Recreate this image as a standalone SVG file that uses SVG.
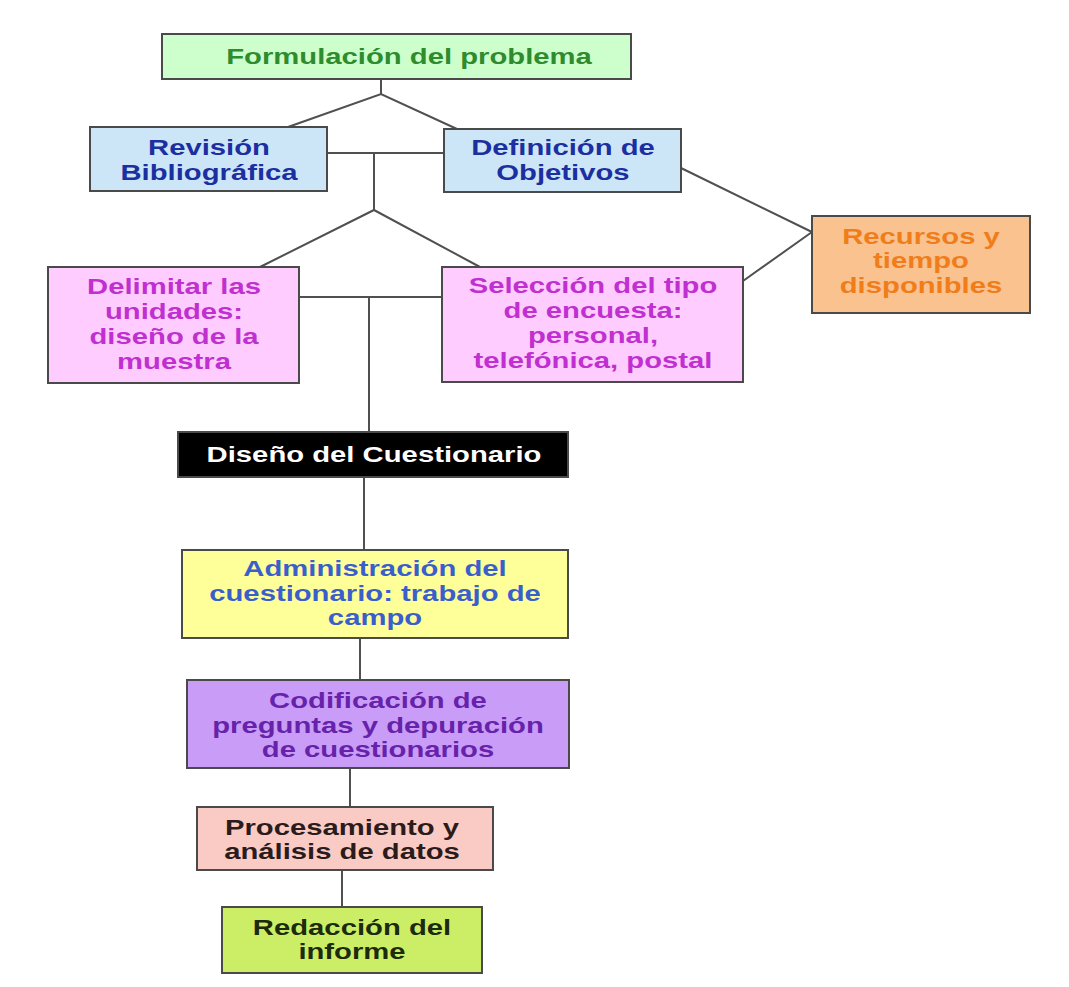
<svg xmlns="http://www.w3.org/2000/svg" width="1069" height="987" viewBox="0 0 1069 987">
<style>
  .box { stroke: #4a4a4a; stroke-width: 2; }
  .lbl { font-family: "Liberation Sans", Arial, sans-serif; font-weight: bold; font-size: 22px; text-anchor: middle; }
  .conn line, .conn polyline { stroke: #505050; stroke-width: 2; fill: none; }
</style>
<rect width="1069" height="987" fill="#ffffff"/>
<g class="conn" id="connectors">
  <line x1="381" y1="79" x2="381" y2="94"/>
  <polyline points="288,127 381,94 457,129"/>
  <line x1="327" y1="153" x2="444" y2="153"/>
  <line x1="374" y1="153" x2="374" y2="210"/>
  <polyline points="260,267 374,210 480,267"/>
  <line x1="299" y1="297" x2="442" y2="297"/>
  <line x1="369" y1="297" x2="369" y2="432"/>
  <line x1="364" y1="477" x2="364" y2="550"/>
  <line x1="360" y1="638" x2="360" y2="680"/>
  <line x1="350" y1="768" x2="350" y2="807"/>
  <line x1="342" y1="870" x2="342" y2="907"/>
  <polyline points="681,168 812,232 743,281"/>
</g>
<g id="formulacion">
  <rect class="box" x="162" y="34" width="469" height="45" fill="#ccffcc"/>
  <g transform="translate(409,0) scale(1.33,1)"><text class="lbl" x="0" y="64" fill="#2e8b2e">Formulación del problema</text></g>
</g>
<g id="revision">
  <rect class="box" x="90" y="127" width="237" height="64" fill="#cce6f7"/>
  <g transform="translate(209,0) scale(1.33,1)" fill="#1c2fa0"><text class="lbl" x="0" y="155">Revisión</text><text class="lbl" x="0" y="180">Bibliográfica</text></g>
</g>
<g id="definicion">
  <rect class="box" x="444" y="129" width="237" height="63" fill="#cce6f7"/>
  <g transform="translate(563,0) scale(1.33,1)" fill="#1c2fa0"><text class="lbl" x="0" y="155">Definición de</text><text class="lbl" x="0" y="180">Objetivos</text></g>
</g>
<g id="recursos">
  <rect class="box" x="812" y="216" width="218" height="97" fill="#f9c28f"/>
  <g transform="translate(921,0) scale(1.33,1)" fill="#f07d1a"><text class="lbl" x="0" y="244">Recursos y</text><text class="lbl" x="0" y="268">tiempo</text><text class="lbl" x="0" y="293">disponibles</text></g>
</g>
<g id="delimitar">
  <rect class="box" x="48" y="267" width="251" height="116" fill="#ffccff"/>
  <g transform="translate(174,0) scale(1.33,1)" fill="#c030d0"><text class="lbl" x="0" y="294">Delimitar las</text><text class="lbl" x="0" y="319">unidades:</text><text class="lbl" x="0" y="344">diseño de la</text><text class="lbl" x="0" y="369">muestra</text></g>
</g>
<g id="seleccion">
  <rect class="box" x="442" y="267" width="301" height="115" fill="#ffccff"/>
  <g transform="translate(593,0) scale(1.33,1)" fill="#c030d0"><text class="lbl" x="0" y="293">Selección del tipo</text><text class="lbl" x="0" y="318">de encuesta:</text><text class="lbl" x="0" y="343">personal,</text><text class="lbl" x="0" y="368">telefónica, postal</text></g>
</g>
<g id="diseno">
  <rect class="box" x="178" y="432" width="390" height="45" fill="#000000"/>
  <g transform="translate(374,0) scale(1.33,1)" fill="#ffffff"><text class="lbl" x="0" y="462">Diseño del Cuestionario</text></g>
</g>
<g id="administracion">
  <rect class="box" x="182" y="550" width="386" height="88" fill="#ffff99"/>
  <g transform="translate(375,0) scale(1.33,1)" fill="#3a5fcd"><text class="lbl" x="0" y="576">Administración del</text><text class="lbl" x="0" y="601">cuestionario: trabajo de</text><text class="lbl" x="0" y="625">campo</text></g>
</g>
<g id="codificacion">
  <rect class="box" x="187" y="680" width="382" height="88" fill="#c99cf7"/>
  <g transform="translate(378,0) scale(1.33,1)" fill="#6622aa"><text class="lbl" x="0" y="708">Codificación de</text><text class="lbl" x="0" y="733">preguntas y depuración</text><text class="lbl" x="0" y="757">de cuestionarios</text></g>
</g>
<g id="procesamiento">
  <rect class="box" x="197" y="807" width="296" height="63" fill="#f9cbc4"/>
  <g transform="translate(342,0) scale(1.33,1)" fill="#2b1b1b"><text class="lbl" x="0" y="835">Procesamiento y</text><text class="lbl" x="0" y="859">análisis de datos</text></g>
</g>
<g id="redaccion">
  <rect class="box" x="222" y="907" width="260" height="66" fill="#ccee66"/>
  <g transform="translate(352,0) scale(1.33,1)" fill="#1b2b0b"><text class="lbl" x="0" y="935">Redacción del</text><text class="lbl" x="0" y="959">informe</text></g>
</g>
</svg>
